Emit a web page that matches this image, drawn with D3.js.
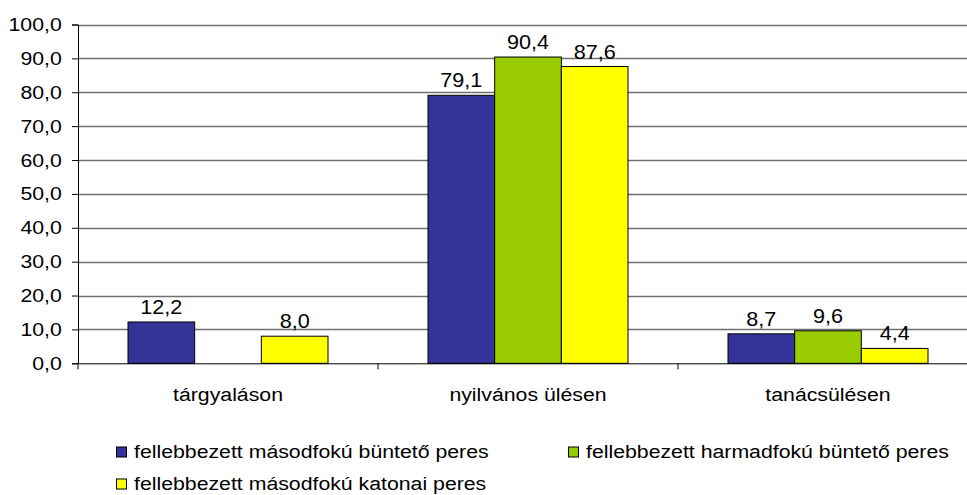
<!DOCTYPE html>
<html>
<head>
<meta charset="utf-8">
<script src="https://cdn.jsdelivr.net/npm/d3@7"></script>
<style>
  html, body { margin: 0; padding: 0; background: #fff; }
  svg { display: block; font-family: "Liberation Sans", Arial, sans-serif; }
</style>
</head>
<body>
<svg id="chart" width="967" height="495"></svg>
<script>
const categories = ["tárgyaláson", "nyilvános ülésen", "tanácsülésen"];
const seriesNames = [
  "fellebbezett másodfokú büntető peres",
  "fellebbezett harmadfokú büntető peres",
  "fellebbezett másodfokú katonai peres"
];
const seriesMasodfokuBunteto = [12.2, 79.1, 8.7];
const seriesHarmadfokuBunteto = [null, 90.4, 9.6];
const seriesMasodfokuKatonai = [8.0, 87.6, 4.4];
const yTicks = [0, 10, 20, 30, 40, 50, 60, 70, 80, 90, 100];
const seriesColors = ["#333399", "#99CC00", "#FFFF00"];

(function () {
const seriesValues = [seriesMasodfokuBunteto, seriesHarmadfokuBunteto, seriesMasodfokuKatonai];
const fmt = v => v.toFixed(1).replace(".", ",");
const SX = 1.12;

const svg = d3.select("#chart");
const W = 967;
const pLeft = 78, pRight = 978, pTop = 24.5, pBottom = 363.3;

const y = d3.scaleLinear().domain([0, 100]).range([pBottom, pTop]);
const x = d3.scaleBand().domain(categories).range([pLeft, pRight]).paddingInner(0).paddingOuter(0);
const xs = d3.scaleBand().domain(d3.range(seriesNames.length)).range([x.bandwidth() / 6, x.bandwidth() * 5 / 6]).padding(0);

// gridlines
svg.append("g").selectAll("line").data(yTicks.filter(t => t > 0)).join("line")
  .attr("x1", pLeft).attr("x2", W)
  .attr("y1", d => Math.round(y(d)) + 0.5).attr("y2", d => Math.round(y(d)) + 0.5)
  .attr("stroke", "#707070").attr("stroke-width", 1.3);

// bars
const groups = svg.append("g").selectAll("g").data(categories).join("g")
  .attr("transform", d => `translate(${x(d)},0)`);
groups.each(function(cat, ci) {
  const g = d3.select(this);
  seriesValues.forEach((vals, si) => {
    const v = vals[ci];
    if (v == null) return;
    g.append("rect")
      .attr("x", xs(si)).attr("width", xs.bandwidth())
      .attr("y", y(v)).attr("height", y(0) - y(v))
      .attr("fill", seriesColors[si]).attr("stroke", "#000").attr("stroke-width", 1);
    g.append("text")
      .attr("transform", `translate(${xs(si) + xs.bandwidth() / 2},${y(v) - 8}) scale(1.08,1)`)
      .attr("text-anchor", "middle").attr("font-size", 20).attr("fill", "#000")
      .text(fmt(v));
  });
});

// y axis
const yAxis = svg.append("g").attr("transform", `translate(${pLeft},0)`)
  .call(d3.axisLeft(y).tickValues(yTicks).tickFormat(fmt).tickSize(6).tickPadding(8.5));
yAxis.select(".domain").attr("stroke", "#000");
yAxis.selectAll(".tick line").attr("stroke", "#000");
yAxis.selectAll("text").attr("font-size", 19).attr("font-family", "Liberation Sans, Arial, sans-serif")
  .attr("fill", "#000").attr("transform", `scale(${SX},1)`);

// x axis
const xAxis = svg.append("g").attr("transform", `translate(0,${pBottom})`)
  .call(d3.axisBottom(x).tickSize(0).tickPadding(24));
xAxis.select(".domain").attr("stroke", "#000");
xAxis.selectAll("text").attr("font-size", 19).attr("font-family", "Liberation Sans, Arial, sans-serif")
  .attr("fill", "#000").attr("transform", `scale(${SX},1)`);

// category separator ticks
const bounds = categories.map(c => x(c)).concat([x(categories[categories.length - 1]) + x.bandwidth()]);
svg.append("g").selectAll("line").data(bounds).join("line")
  .attr("x1", d => d).attr("x2", d => d)
  .attr("y1", pBottom).attr("y2", pBottom + 6)
  .attr("stroke", "#000");

// legend
const legendPos = [[116, 446.5], [568, 446.5], [116, 478.5]];
const lg = svg.append("g").selectAll("g").data(seriesNames).join("g")
  .attr("transform", (d, i) => `translate(${legendPos[i][0]},${legendPos[i][1]})`);
lg.append("rect").attr("x", 0.5).attr("y", 0.5).attr("width", 10).attr("height", 10)
  .attr("fill", (d, i) => seriesColors[i]).attr("stroke", "#000");
lg.append("text")
  .attr("transform", `translate(18,11) scale(${SX},1)`)
  .attr("font-size", 19).attr("fill", "#000")
  .text(d => d);
})();
</script>
</body>
</html>
